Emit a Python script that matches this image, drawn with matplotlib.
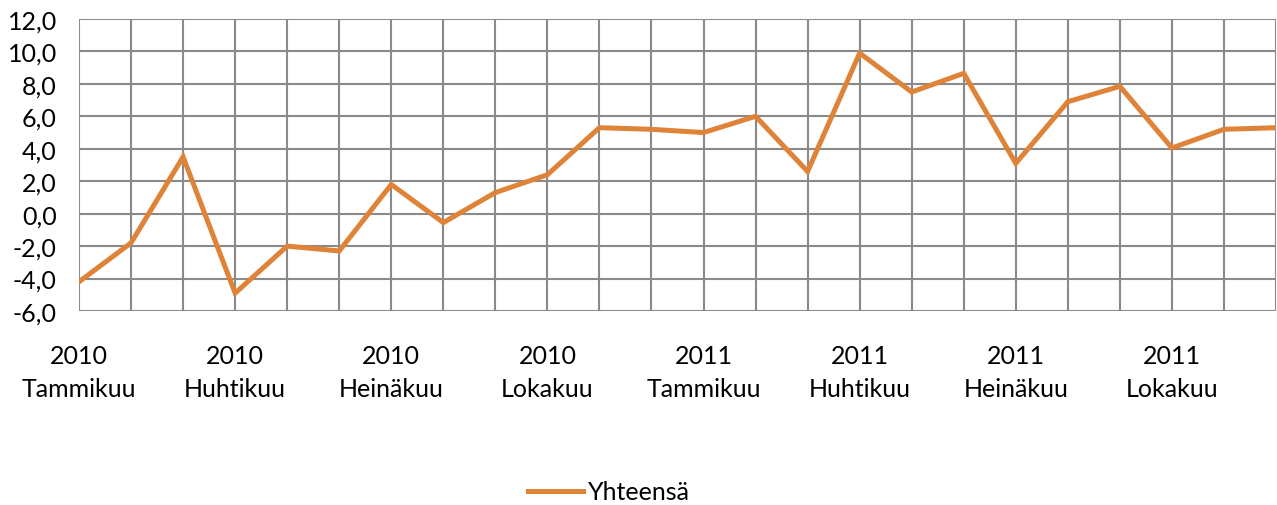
import matplotlib
matplotlib.use("Agg")
import matplotlib.pyplot as plt

months = ["Tammikuu", "Helmikuu", "Maaliskuu", "Huhtikuu", "Toukokuu", "Kesäkuu",
          "Heinäkuu", "Elokuu", "Syyskuu", "Lokakuu", "Marraskuu", "Joulukuu"]
years = ["2010", "2011"]
categories = [f"{y}\n{m}" for y in years for m in months]
values = [-4.2, -1.8, 3.5, -4.9, -2.0, -2.3, 1.8, -0.55, 1.3, 2.4, 5.3, 5.2,
          5.0, 6.0, 2.6, 9.9, 7.5, 8.65, 3.1, 6.9, 7.85, 4.05, 5.2, 5.3]
series_name = "Yhteensä"
yticks = [-6, -4, -2, 0, 2, 4, 6, 8, 10, 12]

plt.rcParams['font.family'] = ['Lato', 'DejaVu Sans']

fig = plt.figure(figsize=(12.77, 5.06), dpi=100)
ax = fig.add_axes([79/1277, 1-312/506, (1276-79)/1277, (312-20)/506])

x = list(range(len(values)))
ax.plot(x, values, color="#DE8337", lw=3.6, solid_joinstyle="miter", zorder=3, label=series_name)

ax.set_xlim(0, len(values)-1)
ax.set_ylim(-6, 12)
ax.set_yticks(yticks)
ax.set_yticklabels([f"{v:.1f}".replace(".", ",") for v in yticks])
ax.set_xticks(x)
ax.set_xticklabels([c if i % 3 == 0 else "" for i, c in enumerate(categories)], linespacing=1.5)
ax.tick_params(axis='both', length=0, labelsize=18, colors="black")
ax.tick_params(axis='x', pad=24)
ax.tick_params(axis='y', pad=16)
ax.grid(True, color="#8A8A8A", lw=1.5)
ax.set_axisbelow(True)
for s in ax.spines.values():
    s.set_visible(False)

fig.legend(loc="center left", bbox_to_anchor=(505/1277, 1-493/506), frameon=False, fontsize=18,
           handlelength=2.2, handletextpad=0.2)

fig.savefig("out.png", dpi=100)
